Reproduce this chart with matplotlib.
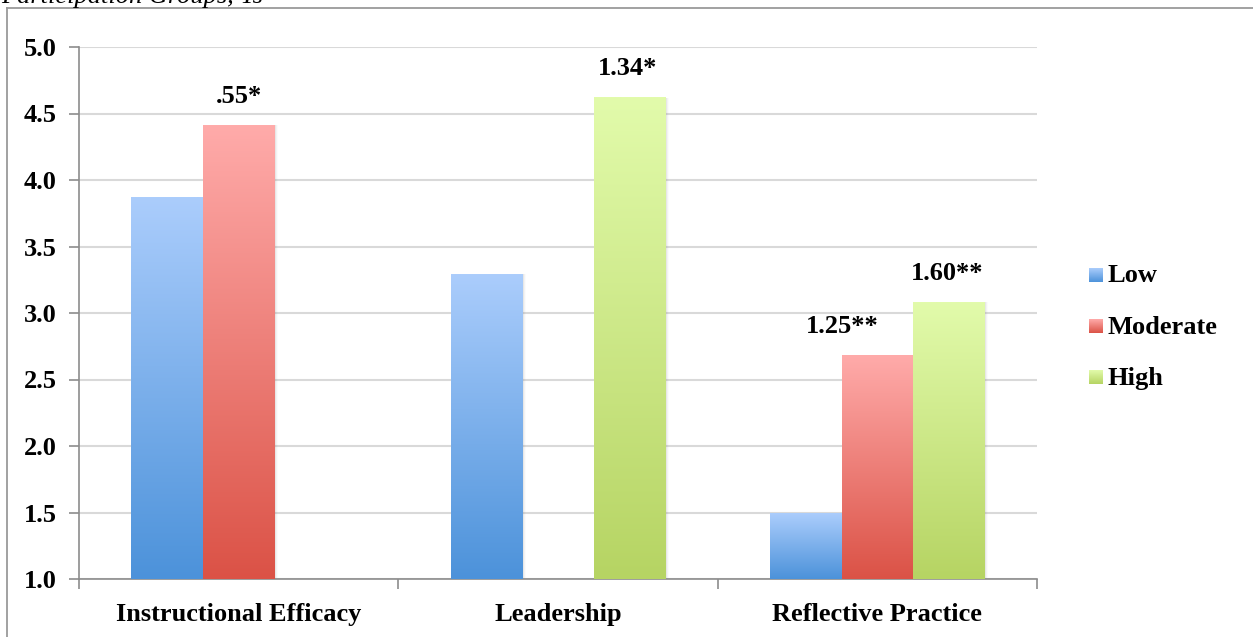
import matplotlib
matplotlib.use("Agg")
import matplotlib.pyplot as plt
import numpy as np
from matplotlib.colors import LinearSegmentedColormap
from matplotlib.lines import Line2D

categories = ["Instructional Efficacy", "Leadership", "Reflective Practice"]
groups = ["Low", "Moderate", "High"]
# mean score per group; None where that group was not compared
low_vals = [3.87, 3.29, 1.49]
moderate_vals = [4.41, None, 2.68]
high_vals = [None, 4.62, 3.08]

# effect-size labels: (category index, group index, text)
effect_labels = [
    (0, 1, ".55*"),
    (1, 2, "1.34*"),
    (2, 1, "1.25**"),
    (2, 2, "1.60**"),
]
# horizontal nudge of each label, in category units
label_dx = [0.0, -0.005, -0.11, -0.005]

# gradient (top, bottom) per group
grad = {
    "Low": ("#abcdfc", "#4c92da"),
    "Moderate": ("#ffabaa", "#db5246"),
    "High": ("#e2fbab", "#b6d463"),
}

SERIF = ["Liberation Serif", "DejaVu Serif"]
plt.rcParams["font.family"] = SERIF
FS = 19
W, H = 1253, 637

fig = plt.figure(figsize=(W / 100, H / 100), dpi=100)
ax = fig.add_axes([79 / W, 1 - 579 / H, (1037 - 79) / W, (579 - 47) / H])

x = np.arange(len(categories))
width = 0.224
offsets = [-width, 0.0, width]
series = [low_vals, moderate_vals, high_vals]
ramp = np.linspace(0, 1, 256).reshape(-1, 1)


def gradient_cmap(name):
    top, bottom = grad[name]
    return LinearSegmentedColormap.from_list(name, [bottom, top])


for g, vals, off in zip(groups, series, offsets):
    cmap = gradient_cmap(g)
    for xi, v in zip(x, vals):
        if v is None:
            continue
        bar = ax.bar(xi + off, v - 1.0, width, bottom=1.0, color="none",
                     edgecolor="none", zorder=3)[0]
        x0, w = bar.get_x(), bar.get_width()
        # soft shadow on the right side
        for k, a in enumerate([0.10, 0.06, 0.03]):
            ax.add_patch(plt.Rectangle((x0 + w, 1.0), 0.004 * (k + 1),
                                       v - 1.0, color="#808080", alpha=a,
                                       lw=0, zorder=2))
        ax.imshow(ramp, cmap=cmap, origin="lower", aspect="auto",
                  extent=(x0, x0 + w, 1.0, v), zorder=3)

ax.set_xlim(-0.5, len(categories) - 0.5)
ax.set_ylim(1.0, 5.0)

for (ci, gi, txt), dx in zip(effect_labels, label_dx):
    v = series[gi][ci]
    ax.text(x[ci] + offsets[gi] + dx, v + 0.22, txt, ha="center",
            va="center", fontsize=FS, fontweight="bold", zorder=5)

# y grid / ticks
yt = np.arange(1.0, 5.01, 0.5)
ax.set_yticks(yt)
ax.set_yticklabels([f"{t:.1f}" for t in yt], fontsize=FS, fontweight="bold")
ax.yaxis.grid(True, color="#d9d9d9", lw=1.5, zorder=0)
ax.set_axisbelow(True)

ax.set_xticks(x)
ax.set_xticklabels(categories, fontsize=FS, fontweight="bold")
ax.set_xticks(np.arange(-0.5, len(categories), 1.0), minor=True)
ax.tick_params(axis="x", which="major", length=0, pad=17)
ax.tick_params(axis="x", which="minor", length=7, width=1.2, color="#8c8c8c",
               direction="out")
ax.tick_params(axis="y", length=7, width=1.2, color="#8c8c8c", pad=9)

for s in ("top", "right"):
    ax.spines[s].set_visible(False)
for s in ("left", "bottom"):
    ax.spines[s].set_color("#8c8c8c")
    ax.spines[s].set_linewidth(1.2)

# legend: gradient swatches with labels
sw = 14
for i, g in enumerate(groups):
    cy = 276 + i * 51
    sax = fig.add_axes([1089 / W, 1 - (cy + sw / 2 - 1) / H, sw / W, sw / H])
    sax.imshow(ramp, cmap=gradient_cmap(g), origin="lower", aspect="auto",
               extent=(0, 1, 0, 1))
    sax.set_axis_off()
    fig.text(1107 / W, 1 - cy / H, g, fontsize=FS, fontweight="bold",
             va="center", ha="left")

# outer frame and the clipped caption above it
fig.add_artist(Line2D([7 / W, 7 / W], [0, 1 - 8 / H],
                      transform=fig.transFigure, color="#9a9a9a", lw=1.3))
fig.add_artist(Line2D([7 / W, 1], [1 - 8 / H, 1 - 8 / H],
                      transform=fig.transFigure, color="#9a9a9a", lw=1.3))
fig.text(1 / W, 1 - 3 / H, "Participation Groups, Ts", fontsize=FS,
         fontstyle="italic", va="baseline", ha="left")

fig.savefig("out.png", dpi=100)
